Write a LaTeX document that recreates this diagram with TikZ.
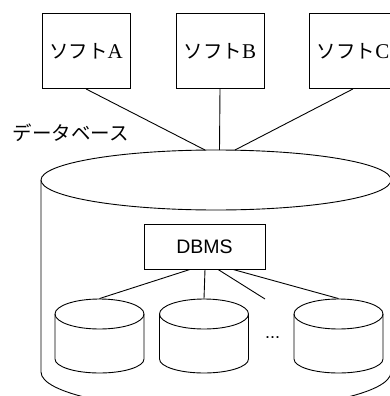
\documentclass[tikz,border=0pt]{standalone}
\usepackage{fontspec}
\setmainfont{Liberation Serif}
\newfontfamily\jp{Noto Sans CJK JP}
\newfontfamily\sans{Liberation Sans}
\usetikzlibrary{shapes.geometric}
\begin{document}
\begin{tikzpicture}[x=1pt,y=-1pt,
  line width=0.9pt,
  softbox/.style={draw, minimum width=88pt, minimum height=75pt, inner sep=0pt, font=\fontsize{21}{23}\selectfont},
  dbmsbox/.style={draw, minimum width=121pt, minimum height=45pt, inner sep=0pt, font=\sans\fontsize{19.5}{21}\selectfont},
  bigtop/.style={draw, ellipse, minimum width=350pt, minimum height=60pt, inner sep=0pt},
  cyltop/.style={draw, ellipse, minimum width=89pt, minimum height=30pt, inner sep=0pt}
]
\useasboundingbox (0,0) rectangle (390,396);
\clip (0,0) rectangle (390,396);
% software boxes
\node[softbox] (sa) at (86,51) {{\jp\fontsize{19.5}{21}\selectfont ソフト}A};
\node[softbox, minimum height=75pt] (sb) at (220,51) {{\jp\fontsize{19.5}{21}\selectfont ソフト}B};
\node[softbox] (sc) at (353,51) {{\jp\fontsize{19.5}{21}\selectfont ソフト}C};
\node[font=\jp\fontsize{19.5}{21}\selectfont, inner sep=0pt] (dblabel) at (71,133) {データベース};
% big cylinder
\draw (41,180) -- (41,372) arc[start angle=180, end angle=0, x radius=175, y radius=38] -- (391,180);
\node[bigtop, fill=white] (db) at (216,180) {};
\coordinate (ea) at (205,150);
\coordinate (eb) at (219.5,150);
\coordinate (ec) at (235,150);
\draw (sa.south) -- (ea);
\draw (sb.south) -- (eb);
\draw (sc.south) -- (ec);
% DBMS
\node[dbmsbox] (dbms) at (204.5,246.5) {DBMS};
% small cylinders
\foreach \n/\cx in {c1/99.5, c2/204, c3/338.5} {
  \draw (\cx-44.5,314) -- (\cx-44.5,359) arc[start angle=180, end angle=0, x radius=44.5, y radius=14] -- (\cx+44.5,314);
  \node[cyltop] (\n) at (\cx,314) {};
}
\coordinate (free) at (265,299);
\draw ([xshift=-14.5pt]dbms.south) -- (c1.north);
\draw ([xshift=0.5pt]dbms.south) -- (c2.north);
\draw ([xshift=13.5pt]dbms.south) -- (free);
\draw ([xshift=28.5pt]dbms.south) -- (c3.north);
\node[font=\sans\fontsize{18}{20}\selectfont, inner sep=0pt] (dots) at (272.5,338) {...};
\end{tikzpicture}
\end{document}
